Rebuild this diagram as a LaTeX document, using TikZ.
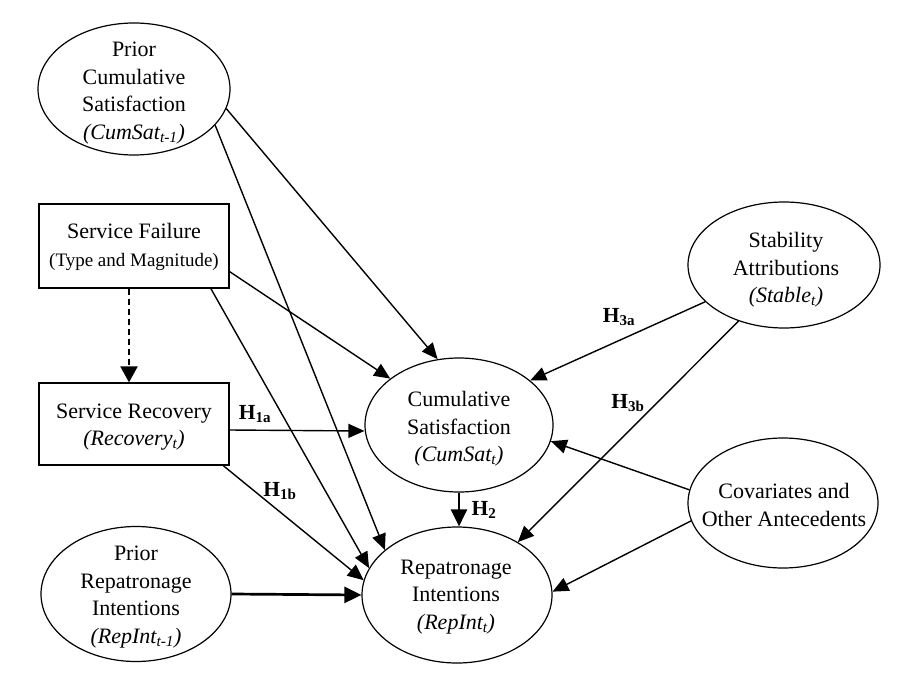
\documentclass[tikz,border=0pt]{standalone}
\usepackage{fontspec}
\setmainfont{Liberation Serif}
\usetikzlibrary{shapes.geometric,arrows.meta}
\begin{document}
\begin{tikzpicture}[x=1pt,y=-1pt,
  oval/.style={ellipse,draw,line width=1.2pt,inner sep=0pt},
  boxnode/.style={rectangle,draw,line width=1.2pt,inner sep=0pt},
  txt/.style={align=center,inner sep=0pt,font=\fontsize{22}{27.5}\selectfont},
  link/.style={line width=1.4pt,-{Triangle[length=16pt,width=14pt]}},
  heavy/.style={line width=2.7pt,-{Triangle[length=17pt,width=16pt]}},
  dasharrow/.style={line width=2pt,dash pattern=on 6pt off 4pt,-{Triangle[length=16pt,width=17pt]}},
  hyp/.style={inner sep=0pt,font=\fontsize{21.5}{25}\selectfont\bfseries}]

\fill[white] (0,0) rectangle (904,674);
\useasboundingbox (0,0) rectangle (904,674);

% constructs
\node[oval,minimum width=192pt,minimum height=132pt] (pcs) at (134,89) {};
\node[txt] (pcs-t) at (134,93) {Prior\\Cumulative\\Satisfaction\\\textit{(CumSat\textsubscript{t-1})}};

\node[boxnode,minimum width=190pt,minimum height=84pt] (sf) at (134,246) {};
\node[txt] (sf-t) at (134,247) {Service Failure\\{\fontsize{19}{24}\selectfont (Type and Magnitude)}};

\node[boxnode,minimum width=190pt,minimum height=82pt] (rec) at (134,424) {};
\node[txt] (rec-t) at (134,427) {Service Recovery\\\textit{(Recovery\textsubscript{t})}};

\node[oval,minimum width=190pt,minimum height=135pt] (pri) at (136,594) {};
\node[txt] (pri-t) at (136,597) {Prior\\Repatronage\\Intentions\\\textit{(RepInt\textsubscript{t-1})}};

\node[oval,minimum width=188pt,minimum height=134pt] (cs) at (459,425) {};
\node[txt] (cs-t) at (459,429) {Cumulative\\Satisfaction\\\textit{(CumSat\textsubscript{t})}};

\node[oval,minimum width=190pt,minimum height=136pt] (rep) at (457,595) {};
\node[txt] (rep-t) at (456,597) {Repatronage\\Intentions\\\textit{(RepInt\textsubscript{t})}};

\node[oval,minimum width=192pt,minimum height=126pt] (stab) at (784,265) {};
\node[txt] (stab-t) at (786,270) {Stability\\Attributions\\\textit{(Stable\textsubscript{t})}};

\node[oval,minimum width=190pt,minimum height=130pt] (cov) at (783,503) {};
\node[txt] (cov-t) at (784,505) {Covariates and\\Other Antecedents};

% paths
\draw[link] (pcs.-12) -- (cs.108);
\draw[link] (pcs.-24) -- (rep.148);
\draw[link] (sf.-15) -- (cs.146);
\draw[link] (sf.-29) -- (rep.163);
\draw[dasharrow] ([xshift=-5pt]sf.south) -- ([xshift=-5pt]rec.north);
\draw[link] ([yshift=-6pt]rec.east) -- ([yshift=-6pt]cs.west);
\draw[link] (rec.-25) -- (rep.171);
\draw[heavy] (pri.east) -- (rep.west);
\draw[heavy] (cs.south) -- (cs.south |- rep.north);
\draw[link] (stab.205) -- (cs.32);
\draw[link] (stab.231) -- (rep.41);
\draw[link] (cov.172) -- (cs.-10);
\draw[link] (cov.191) -- (rep.2);

% hypothesis labels
\node[hyp] (h1a) at (255,414) {H\textsubscript{1a}};
\node[hyp] (h1b) at (280,491) {H\textsubscript{1b}};
\node[hyp] (h2) at (484,510) {H\textsubscript{2}};
\node[hyp] (h3a) at (619,317) {H\textsubscript{3a}};
\node[hyp] (h3b) at (628,403) {H\textsubscript{3b}};
\end{tikzpicture}
\end{document}
